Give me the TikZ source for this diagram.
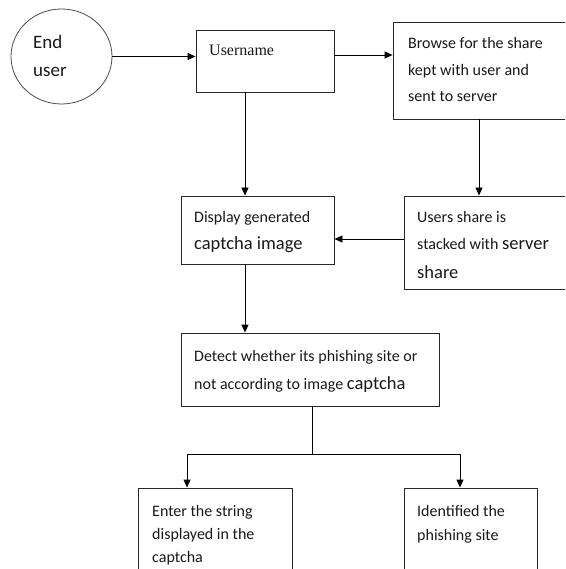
\documentclass[tikz,border=0pt]{standalone}
\usepackage{fontspec}
\setmainfont{Carlito}
\newfontfamily\tnr{Liberation Serif}
\usetikzlibrary{arrows.meta,shapes.geometric}
\newcommand\mylines[3]{\parbox[t]{240pt}{\fontsize{#1}{#2}\selectfont #3}}
\newcommand\bigtxt[1]{{\fontsize{18.5}{28}\selectfont #1}}
\begin{document}
\begin{tikzpicture}[x=1pt,y=-1pt,
  box/.style={draw=black!85,line width=0.9pt,rectangle,inner sep=0pt},
  txt/.style={anchor=base west,inner sep=0pt,text=black!90},
  arr/.style={-{Triangle[length=8pt,width=7pt]},line width=0.9pt,draw=black},
  ln/.style={line width=0.9pt,draw=black}]
\clip (0,0) rectangle (565,569);
\fill[white] (0,0) rectangle (565,569);
% shapes
\node[ellipse,draw=black!70,line width=0.8pt,minimum width=101pt,minimum height=95pt,inner sep=0pt] (eu) at (61.5,56.5) {};
\node[box,minimum width=138pt,minimum height=62pt] (un) at (265,61) {};
\node[box,minimum width=182pt,minimum height=97pt] (br) at (484,70.5) {};
\node[box,minimum width=153pt,minimum height=68pt] (ds) at (257.5,230) {};
\node[box,minimum width=171pt,minimum height=93pt] (us) at (489.5,242.5) {};
\node[box,minimum width=258pt,minimum height=73pt] (dt) at (310,369.5) {};
\node[box,minimum width=154pt,minimum height=102pt] (en) at (215,539) {};
\node[box,minimum width=133pt,minimum height=102pt] (id) at (470.5,539) {};
% texts
\node[txt] (eut) at (33,49) {\mylines{19}{28}{End\\user}};
\node[txt] (unt) at (209,56) {\tnr\fontsize{16}{19}\selectfont Username};
\node[txt] (brt) at (408,49) {\mylines{16}{26.5}{Browse for the share\\kept with user and\\sent to server}};
\node[txt] (dst) at (194,222) {\mylines{16}{28}{Display generated\\\bigtxt{captcha image}}};
\node[txt] (ust) at (417,222) {\mylines{16}{28}{Users share is\\stacked with \bigtxt{server}\\\bigtxt{share}}};
\node[txt] (dtt) at (194,361) {\mylines{16}{28}{Detect whether its phishing site or\\not according to image \bigtxt{captcha}}};
\node[txt] (ent) at (152,516) {\mylines{16}{23}{Enter the string\\displayed in the\\captcha}};
\node[txt] (idt) at (417,516) {\mylines{16}{24}{Identified the\\phishing site}};
% connectors
\draw[arr] (eu.east) -- (eu.east -| un.west);
\draw[arr] ([yshift=6pt]un.east) -- ([yshift=6pt]un.east -| br.west);
\draw[arr] ([xshift=-20pt]un.south) -- ([xshift=-20pt]un.south |- ds.north);
\draw[arr] ([xshift=-5pt]br.south) -- ([xshift=-5pt]br.south |- us.north);
\draw[arr] ([yshift=3.5pt]us.west) -- ([yshift=3.5pt]us.west -| ds.east);
\draw[arr] ([xshift=-12.5pt]ds.south) -- ([xshift=-12.5pt]ds.south |- dt.north);
\coordinate (j) at (312,454);
\coordinate (jl) at (187,454);
\coordinate (jr) at (460,454);
\draw[ln] (dt.south -| j) -- (j);
\draw[ln] (jl) -- (jr);
\draw[arr] (jl) -- (jl |- en.north);
\draw[arr] (jr) -- (jr |- id.north);
\end{tikzpicture}
\end{document}
